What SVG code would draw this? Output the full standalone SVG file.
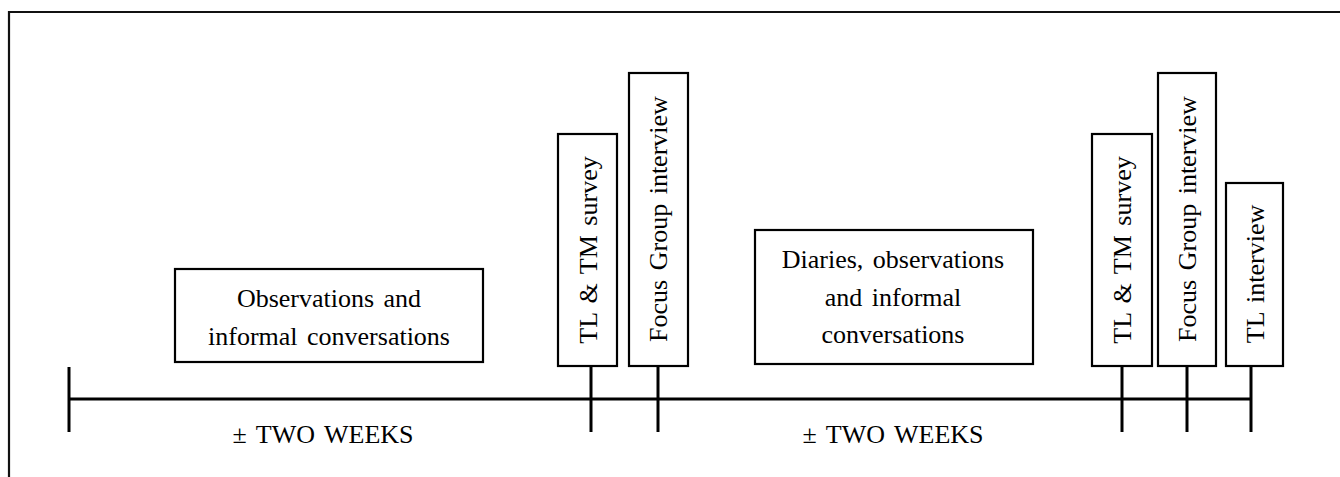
<svg xmlns="http://www.w3.org/2000/svg" width="1340" height="477" viewBox="0 0 1340 477">
<style>
.box{fill:#fff;stroke:#000;stroke-width:2.2}
.t{font-family:"Liberation Serif","Times New Roman",serif;font-size:26px;fill:#000;text-anchor:middle;word-spacing:3px}
.ln{stroke:#000;stroke-width:3;fill:none}
</style>
<rect width="1340" height="477" fill="#fff"/>
<path d="M9,477 V12 H1340" fill="none" stroke="#111" stroke-width="2.2"/>
<g id="connectors">
<line class="ln" x1="69" y1="399" x2="1251" y2="399"/>
<line class="ln" x1="69" y1="367" x2="69" y2="432"/>
<line class="ln" x1="591" y1="366" x2="591" y2="432"/>
<line class="ln" x1="658" y1="366" x2="658" y2="432"/>
<line class="ln" x1="1122" y1="366" x2="1122" y2="432"/>
<line class="ln" x1="1187" y1="366" x2="1187" y2="432"/>
<line class="ln" x1="1251" y1="366" x2="1251" y2="432"/>
</g>
<g id="obs1">
<rect class="box" x="175" y="269" width="308" height="93"/>
<text class="t" x="329" y="307">Observations and</text>
<text class="t" x="329" y="345">informal conversations</text>
</g>
<g id="survey1">
<rect class="box" x="558" y="134" width="59" height="232"/>
<text class="t" transform="translate(597,250) rotate(-90)">TL &amp; TM survey</text>
</g>
<g id="focus1">
<rect class="box" x="629" y="73" width="59" height="293"/>
<text class="t" transform="translate(667,219) rotate(-90)">Focus Group interview</text>
</g>
<g id="obs2">
<rect class="box" x="755" y="230" width="278" height="134"/>
<text class="t" x="893" y="268">Diaries, observations</text>
<text class="t" x="893" y="306">and informal</text>
<text class="t" x="893" y="343">conversations</text>
</g>
<g id="survey2">
<rect class="box" x="1092" y="134" width="60" height="232"/>
<text class="t" transform="translate(1131,250) rotate(-90)">TL &amp; TM survey</text>
</g>
<g id="focus2">
<rect class="box" x="1158" y="73" width="58" height="293"/>
<text class="t" transform="translate(1196,219) rotate(-90)">Focus Group interview</text>
</g>
<g id="tlint">
<rect class="box" x="1226" y="183" width="57" height="183"/>
<text class="t" transform="translate(1264,274) rotate(-90)">TL interview</text>
</g>
<g id="labels">
<text class="t" x="323" y="443">± TWO WEEKS</text>
<text class="t" x="893" y="443">± TWO WEEKS</text>
</g>
</svg>
